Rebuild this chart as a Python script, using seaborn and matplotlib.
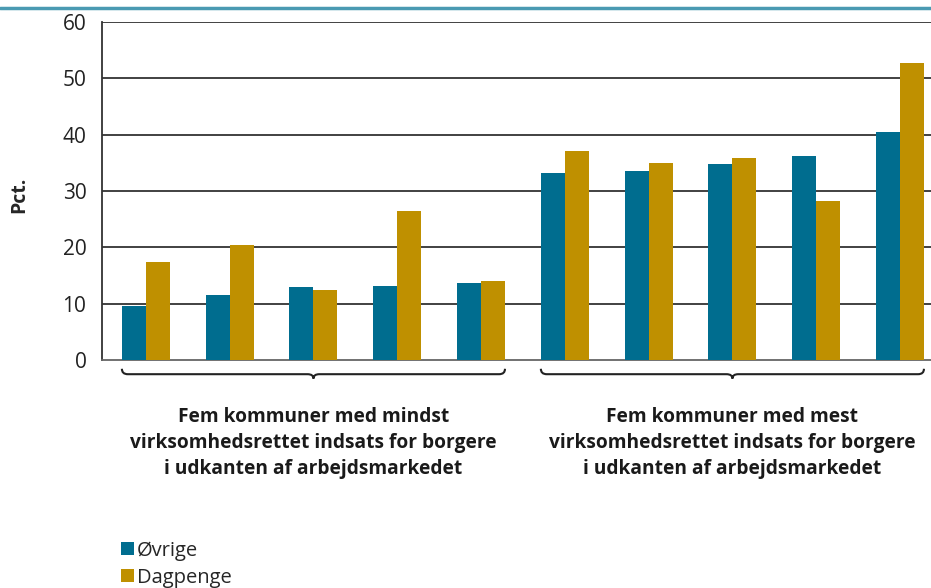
import numpy as np
import pandas as pd
import matplotlib
matplotlib.use("Agg")
import matplotlib.pyplot as plt
import matplotlib.transforms as mtransforms
from matplotlib.path import Path
from matplotlib.patches import PathPatch, Patch
import seaborn as sns

# ---- data ----
kommuner = ["K1", "K2", "K3", "K4", "K5", "K6", "K7", "K8", "K9", "K10"]
ovrige = [9.6, 11.5, 13.0, 13.2, 13.7, 33.2, 33.6, 34.8, 36.2, 40.5]
dagpenge = [17.4, 20.5, 12.4, 26.4, 14.0, 37.1, 35.0, 35.9, 28.2, 52.8]
series = ["Øvrige", "Dagpenge"]
group_labels = [
    "Fem kommuner med mindst\nvirksomhedsrettet indsats for borgere\ni udkanten af arbejdsmarkedet",
    "Fem kommuner med mest\nvirksomhedsrettet indsats for borgere\ni udkanten af arbejdsmarkedet",
]
y_ticks = [0, 10, 20, 30, 40, 50, 60]
y_label = "Pct."

colors = {"Øvrige": "#006D8F", "Dagpenge": "#BF9000"}

df = pd.DataFrame({
    "kommune": kommuner * 2,
    "serie": [series[0]] * len(kommuner) + [series[1]] * len(kommuner),
    "pct": ovrige + dagpenge,
})

sns.set_theme(style="white")
plt.rcParams["font.family"] = ["Open Sans", "DejaVu Sans"]

W, H = 931, 588
fig = plt.figure(figsize=(W / 100, H / 100), dpi=100)
ax = fig.add_axes([101.7 / W, 1 - 360 / H, 1 - 101.7 / W, (360 - 22) / H])

sns.barplot(data=df, x="kommune", y="pct", hue="serie", hue_order=series,
            palette=colors, width=0.572, saturation=1, ax=ax, legend=False,
            linewidth=0, edgecolor="none", zorder=3)

ax.set_ylim(0, 60)
ax.set_xlim(-0.527, 9.37)
ax.set_yticks(y_ticks)
ax.set_yticklabels([str(t) for t in y_ticks], fontsize=15, color="#222222")
ax.tick_params(axis="y", length=0, pad=11)
ax.set_xticks([0.5, 1.5, 2.5, 3.5, 5.5, 6.5, 7.5, 8.5])
ax.set_xticklabels([])
ax.tick_params(axis="x", direction="in", length=7, width=1.2, color="#222222")
ax.set_xlabel("")
ax.set_ylabel(y_label, fontsize=14, fontweight="bold")
ax.yaxis.set_label_coords(-72 / 829.3, (360 - 195) / 338)

for t in y_ticks[1:]:
    ax.axhline(t, color="#333333", lw=1.3, zorder=1)

ax.spines["right"].set_visible(False)
ax.spines["top"].set_visible(False)
ax.spines["left"].set_color("#333333")
ax.spines["left"].set_linewidth(1.3)
ax.spines["bottom"].set_color("#666666")
ax.spines["bottom"].set_linewidth(1.3)

# braces
trans = mtransforms.blended_transform_factory(ax.transData, ax.transAxes)
def brace(x0, x1):
    ytop, ymid, ytip = -0.026, -0.042, -0.055
    xc = (x0 + x1) / 2
    r = 0.07
    verts = [(x0, ytop), (x0, ymid), (x0 + r, ymid),
             (xc - r, ymid), (xc, ymid), (xc, ytip),
             (xc, ymid), (xc + r, ymid),
             (x1 - r, ymid), (x1, ymid), (x1, ytop)]
    codes = [Path.MOVETO, Path.CURVE3, Path.CURVE3,
             Path.LINETO, Path.CURVE3, Path.CURVE3,
             Path.CURVE3, Path.CURVE3,
             Path.LINETO, Path.CURVE3, Path.CURVE3]
    p = PathPatch(Path(verts, codes), transform=trans, fill=False,
                  edgecolor="#222222", lw=1.5, clip_on=False)
    ax.add_patch(p)

brace(-0.286, 4.286)
brace(4.714, 9.286)

for xc, lab in zip([2, 7], group_labels):
    ax.text(xc, (360 - 443) / 338, lab, transform=trans, ha="center",
            va="center", fontsize=13.8, fontweight="bold", color="#1a1a1a",
            linespacing=1.4)

# legend
handles = [Patch(facecolor=colors[s], edgecolor="none", label=s) for s in series]
fig.legend(handles=handles, loc="upper left",
           bbox_to_anchor=(113 / W, 1 - 533 / H), frameon=False,
           fontsize=14.5, handlelength=0.62, handleheight=0.62,
           handletextpad=0.15, labelspacing=0.33, borderaxespad=0)

# teal rule at top
fig.add_artist(plt.Line2D([0, 1], [1 - 8 / H, 1 - 8 / H],
                          transform=fig.transFigure, color="#4A9AB2", lw=2.5))

fig.savefig("out.png", dpi=100)
